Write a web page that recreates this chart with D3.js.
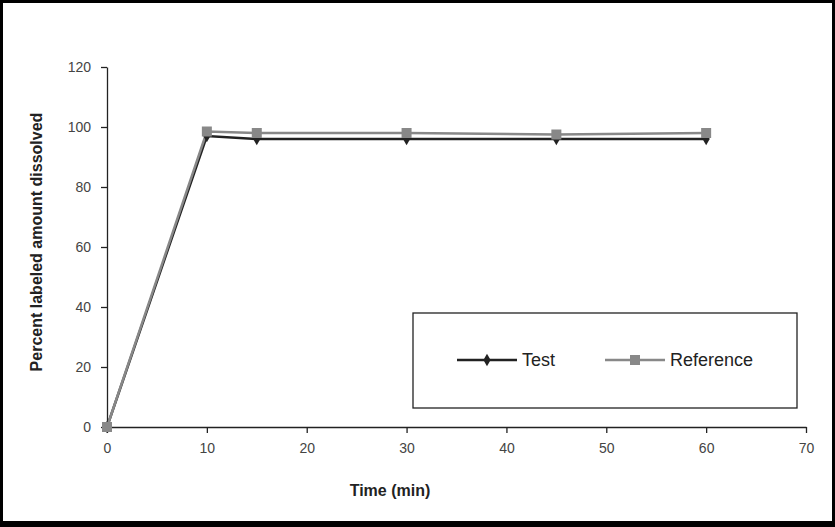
<!DOCTYPE html>
<html><head><meta charset="utf-8">
<script src="https://cdn.jsdelivr.net/npm/d3@7"></script>
<style>body{margin:0;background:#000}svg{display:block}</style>
</head><body><svg id="c" width="835" height="527"></svg>
<script>
const times = [0, 10, 15, 30, 45, 60];
const testValues = [0, 97, 96, 96, 96, 96];
const refValues = [0, 98.5, 98, 98, 97.5, 98];
const xTicks = [0, 10, 20, 30, 40, 50, 60, 70];
const yTicks = [0, 20, 40, 60, 80, 100, 120];

const svg = d3.select("#c");
svg.append("rect").attr("x", 3).attr("y", 3).attr("width", 829).attr("height", 518).attr("fill", "#fff");

const x = d3.scaleLinear().domain([0, 70]).range([107, 806]);
const y = d3.scaleLinear().domain([0, 120]).range([427, 67]);
const font = "Arial, 'Liberation Sans', sans-serif";

const xa = svg.append("g").attr("transform", "translate(0,427)")
  .call(d3.axisBottom(x).tickValues(xTicks).tickSize(6).tickPadding(10).tickSizeOuter(0));
const ya = svg.append("g").attr("transform", "translate(107,0)")
  .call(d3.axisLeft(y).tickValues(yTicks).tickSize(6).tickPadding(10).tickSizeOuter(0));
[xa, ya].forEach(g => {
  g.selectAll("path,line").attr("stroke", "#222").attr("stroke-width", 1.3);
  g.selectAll("text").attr("font-family", font).attr("font-size", 14).attr("fill", "#444");
});

svg.append("text").attr("x", 390).attr("y", 496).attr("text-anchor", "middle")
  .attr("font-family", font).attr("font-size", 16).attr("font-weight", "bold").attr("fill", "#222")
  .text("Time (min)");
svg.append("text").attr("transform", "translate(42,242) rotate(-90)").attr("text-anchor", "middle")
  .attr("font-family", font).attr("font-size", 16).attr("font-weight", "bold").attr("fill", "#222")
  .text("Percent labeled amount dissolved");

const line = d3.line().x(d => x(d[0])).y(d => y(d[1]));
const testPts = times.map((t, i) => [t, testValues[i]]);
const refPts = times.map((t, i) => [t, refValues[i]]);

svg.append("path").datum(testPts).attr("d", line).attr("fill", "none").attr("stroke", "#222").attr("stroke-width", 2.5);
svg.append("path").datum(refPts).attr("d", line).attr("fill", "none").attr("stroke", "#888").attr("stroke-width", 2.5);
svg.selectAll(".tm").data(testPts).join("path").attr("class", "tm")
  .attr("transform", d => `translate(${x(d[0])},${y(d[1])})`)
  .attr("d", d3.symbol(d3.symbolDiamond, 45)).attr("fill", "#222");
svg.selectAll(".rm").data(refPts).join("rect").attr("class", "rm")
  .attr("x", d => x(d[0]) - 5).attr("y", d => y(d[1]) - 5).attr("width", 10).attr("height", 10).attr("fill", "#888");

// legend
svg.append("rect").attr("x", 413).attr("y", 313).attr("width", 384).attr("height", 95)
  .attr("fill", "#fff").attr("stroke", "#222").attr("stroke-width", 1.3);
const lg = [{name: "Test", c: "#222", x0: 457}, {name: "Reference", c: "#888", x0: 605}];
lg.forEach((d, i) => {
  svg.append("line").attr("x1", d.x0).attr("x2", d.x0 + 60).attr("y1", 360).attr("y2", 360)
    .attr("stroke", d.c).attr("stroke-width", 2.5);
  if (i === 0) svg.append("path").attr("transform", `translate(${d.x0 + 30},360)`)
    .attr("d", d3.symbol(d3.symbolDiamond, 45)).attr("fill", d.c);
  else svg.append("rect").attr("x", d.x0 + 25).attr("y", 355).attr("width", 10).attr("height", 10).attr("fill", d.c);
  svg.append("text").attr("x", d.x0 + 65).attr("y", 366).attr("font-family", font).attr("font-size", 18)
    .attr("fill", "#222").text(d.name);
});
</script></body></html>
